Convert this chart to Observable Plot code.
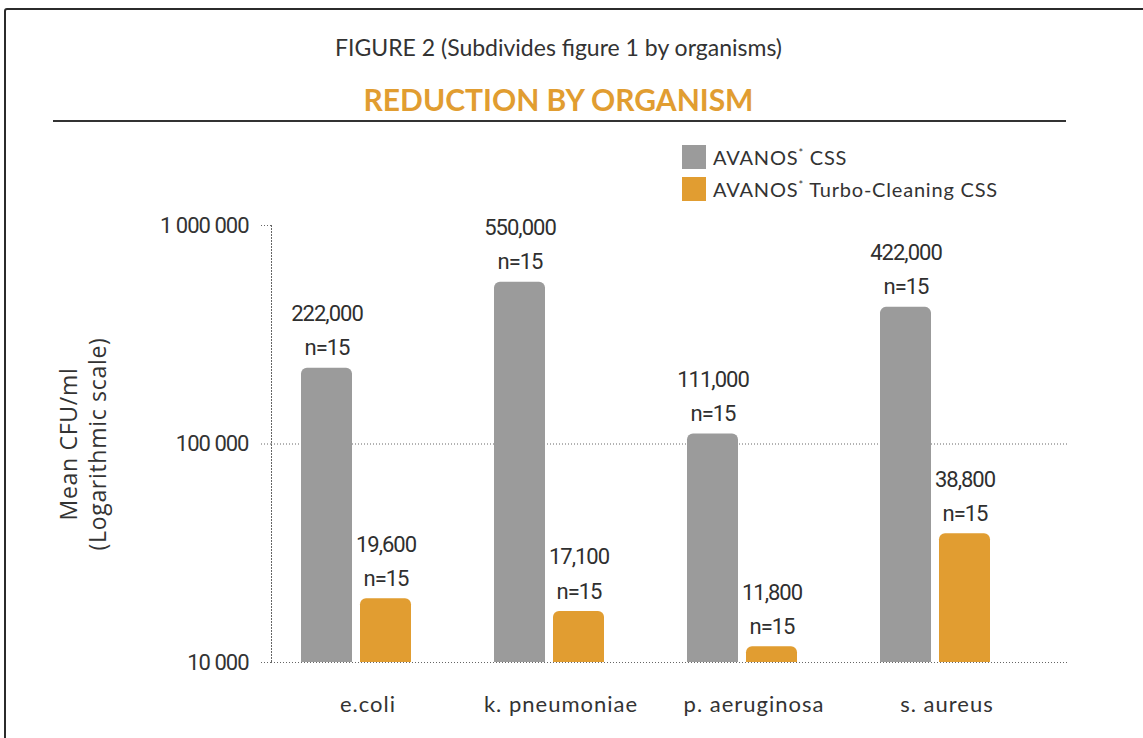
<!DOCTYPE html>
<html>
<head>
<meta charset="utf-8">
<script src="https://cdn.jsdelivr.net/npm/d3@7"></script>
<script src="https://cdn.jsdelivr.net/npm/@observablehq/plot@0.6"></script>
<style>
  html, body { margin: 0; padding: 0; background: #fff; overflow: hidden; }
  body { width: 1143px; height: 738px; position: relative; font-family: Lato, "Open Sans", sans-serif; color: #333; }
  #border { position: absolute; left: 4px; top: 8px; width: 1300px; height: 900px; border: 2.5px solid #2b2b2b; border-radius: 3px; }
  #title { position: absolute; left: 0; width: 1117px; top: 33px; text-align: center; font-size: 23px; color: #333; }
  #subtitle { position: absolute; left: 0; width: 1117px; top: 81px; text-align: center; font-size: 30px; font-weight: bold; color: #e19d31; }
  #rule { position: absolute; left: 53px; top: 120px; width: 1013px; height: 2px; background: #333; }
  #legend { position: absolute; left: 682px; top: 145px; font-size: 20px; letter-spacing: 0.8px; color: #333; }
  .item { display: flex; align-items: center; height: 24px; margin-bottom: 8px; }
  .sw { width: 24px; height: 24px; margin-right: 7px; }
  .item sup { font-size: 11px; }
  .layer { position: absolute; left: 0; top: 205px; }
  #bars g[aria-label="text"] text { letter-spacing: -1px; }
  #base g[aria-label="y-axis tick label"] text { letter-spacing: -1px; }
  #bars g[aria-label="fx-axis tick label"] text { letter-spacing: 1px; }
  #base g[aria-label="text"] text { letter-spacing: 0.7px; }
</style>
</head>
<body>
<div id="border"></div>
<div id="title">FIGURE 2 (Subdivides figure 1 by organisms)</div>
<div id="subtitle">REDUCTION BY ORGANISM</div>
<div id="rule"></div>
<div id="legend"></div>
<div id="base" class="layer"></div>
<div id="bars" class="layer"></div>
<script>
const organisms = ["e.coli", "k. pneumoniae", "p. aeruginosa", "s. aureus"];
const series = ["AVANOS* CSS", "AVANOS* Turbo-Cleaning CSS"];
const cssValues = [222000, 550000, 111000, 422000];
const turboValues = [19600, 17100, 11800, 38800];
const nValues = [15, 15, 15, 15];
const yTicks = [10000, 100000, 1000000];
const gridTicks = [10000, 100000];
const colors = ["#9b9b9b", "#e19d31"];
const yLabel = "Mean CFU/ml\n(Logarithmic scale)";

const data = [];
organisms.forEach((o, i) => {
  data.push({organism: o, series: series[0], value: cssValues[i], n: nValues[i]});
  data.push({organism: o, series: series[1], value: turboValues[i], n: nValues[i]});
});

const comma = d3.format(",");
const spaced = d3.formatLocale({decimal: ".", thousands: " ", grouping: [3], currency: ["", ""]}).format(",");
const numFont = "Roboto, sans-serif";

// legend
const legend = document.getElementById("legend");
series.forEach((s, i) => {
  const [a, b] = s.split("*");
  const div = document.createElement("div");
  div.className = "item";
  div.innerHTML = `<div class="sw" style="background:${colors[i]}"></div><span>${a}<sup>*</sup>${b}</span>`;
  legend.appendChild(div);
});

const common = {
  width: 1143,
  height: 533,
  marginTop: 20,
  marginBottom: 76,
  marginLeft: 271,
  marginRight: 76,
  y: {type: "log", domain: [10000, 1000000]}
};

// base layer: axis, gridlines, axis label
const base = Plot.plot({
  ...common,
  style: {fontFamily: numFont, fontSize: "22px", color: "#333", background: "transparent"},
  marks: [
    Plot.ruleY(gridTicks, {stroke: "#666", strokeDasharray: "1,2"}),
    Plot.frame({anchor: "left", stroke: "#666", strokeDasharray: "1,2"}),
    Plot.axisY(yTicks, {tickSize: 11, tickPadding: 12, tickFormat: spaced, fontSize: 22, label: null, stroke: "#666", strokeDasharray: "1,2", fill: "#333"}),
    Plot.text([yLabel], {frameAnchor: "left", textAnchor: "middle", rotate: -90, dx: -189, fontSize: 23, lineHeight: 1.27, fill: "#333", fontFamily: "'Open Sans', sans-serif"})
  ]
});
document.getElementById("base").appendChild(base);

// bars layer: grouped bars faceted by organism
const bars = Plot.plot({
  ...common,
  y: {...common.y, axis: null},
  style: {fontFamily: numFont, fontSize: "22px", color: "#333", background: "transparent"},
  fx: {domain: organisms, paddingInner: 0, paddingOuter: 0.057, align: 0, label: null},
  x: {domain: series, paddingInner: 0.1333, paddingOuter: 0.679, align: 0.364, axis: null},
  color: {domain: series, range: colors},
  marks: [
    Plot.axisFx({anchor: "bottom", tickSize: 0, tickPadding: 34, fontSize: 22, label: null, fill: "#333", fontFamily: "Lato, sans-serif"}),
    Plot.barY(data, {fx: "organism", x: "series", y1: 10000, y2: "value", fill: "series", ry1: 6}),
    Plot.text(data, {fx: "organism", x: "series", y: "value", text: d => comma(d.value) + "\nn=" + d.n, lineAnchor: "bottom", dy: -13, lineHeight: 1.55, fontSize: 22, fill: "#2f2f2f"})
  ]
});
document.getElementById("bars").appendChild(bars);
</script>
</body>
</html>
